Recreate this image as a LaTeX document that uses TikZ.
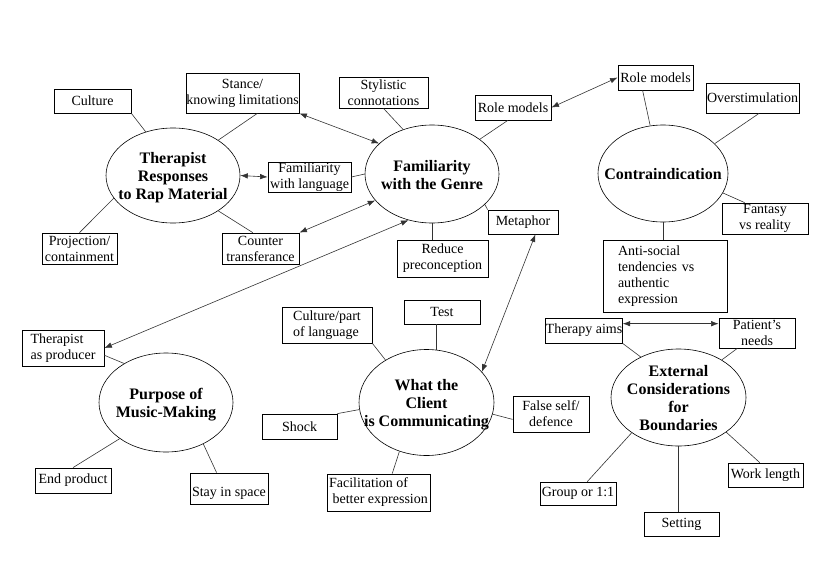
\documentclass[tikz,border=0pt]{standalone}
\usepackage{fontspec}
\setmainfont{Liberation Serif}
\usetikzlibrary{shapes.geometric,arrows.meta}

% texto centrado que no agranda la elipse
\newcommand{\centro}[1]{\smash{\makebox[0pt]{\raisebox{-7pt}{\begin{tabular}{@{}c@{}}#1\end{tabular}}}}}

\begin{document}
\begin{tikzpicture}[x=1pt,y=-1pt,
    caja/.style={draw,line width=0.8pt,inner sep=0pt,align=center,font=\fontsize{14}{16}\selectfont},
    tam/.style 2 args={minimum width=#1pt,minimum height=#2pt},
    elipse/.style={ellipse,draw,line width=0.6pt,inner sep=0pt,font=\fontsize{16}{18}\selectfont\bfseries},
    linea/.style={line width=0.6pt,black!80},
    flecha/.style={linea,<->},
    >={Latex[length=7.5pt,width=5.5pt]}]
    \useasboundingbox (0,0) rectangle (821,575);

    % Elipses
    \node[elipse,tam={134}{95}] (therapist) at (173,175.5) {\centro{Therapist\\Responses\\to Rap Material}};
    \node[elipse,tam={134}{98}] (genre) at (432,174) {\centro{Familiarity\\with the Genre}};
    \node[elipse,tam={130}{97}] (contra) at (663,173.5) {\centro{Contraindication}};
    \node[elipse,tam={134}{99}] (purpose) at (166,402.5) {\centro{Purpose of\\Music-Making}};
    \node[elipse,tam={135}{106}] (client) at (426.5,402.5) {\centro{What the\\Client\\is Communicating}};
    \node[elipse,tam={135}{97}] (external) at (678.5,397.5) {\centro{External\\Considerations\\for\\Boundaries}};

    % Cajas
    \node[caja,tam={77}{24}] (culture) at (92.5,101) {Culture};
    \node[caja,tam={113}{40}] (stance) at (242.5,93) {Stance/\\knowing limitations};
    \node[caja,tam={83}{30}] (famlang) at (309.5,177) {Familiarity\\with language};
    \node[caja,tam={75}{31}] (projection) at (79.5,248.5) {Projection/\\containment};
    \node[caja,tam={77}{31}] (counter) at (260.5,248.5) {Counter\\transferance};
    \node[caja,tam={89}{31}] (stylistic) at (383.5,92.5) {Stylistic\\connotations};
    \node[caja,tam={76}{25}] (rolemodelsa) at (513,107.5) {Role models};
    \node[caja,tam={70}{24}] (metaphor) at (523,222) {Metaphor};
    \node[caja,tam={91}{37}] (reduce) at (442.5,258.5) {Reduce\\preconception};
    \node[caja,tam={75}{25}] (rolemodelsb) at (655.5,77.5) {Role models};
    \node[caja,tam={93}{30}] (overstim) at (752.5,98) {Overstimulation};
    \node[caja,tam={86}{31}] (fantasy) at (765,218.5) {Fantasy\\vs reality};
    \node[caja,tam={124}{72},text width=94pt,align=left] (antisocial) at (665,276) {Anti-social\\tendencies vs\\authentic\\expression};
    \node[caja,tam={82}{36},align=left] (producer) at (63,348) {Therapist\\as producer};
    \node[caja,tam={76}{25}] (endprod) at (73,480.5) {End product};
    \node[caja,tam={78}{31},text height=19pt] (stay) at (229,488.5) {Stay in space};
    \node[caja,tam={90}{36},align=left] (culpart) at (327,325) {Culture/part\\of language};
    \node[caja,tam={76}{24}] (test) at (442,312) {Test};
    \node[caja,tam={75}{25}] (shock) at (299.5,426.5) {Shock};
    \node[caja,tam={76}{36}] (falseself) at (551,414) {False self/\\defence};
    \node[caja,tam={103}{37},align=left] (facil) at (378.5,492.5) {Facilitation of\\\ better expression};
    \node[caja,tam={76}{25}] (aims) at (584,330.5) {Therapy aims};
    \node[caja,tam={76}{30}] (needs) at (757,333) {Patient's\\needs};
    \node[caja,tam={76}{23}] (group) at (578,493.5) {Group or 1:1};
    \node[caja,tam={75}{24}] (setting) at (681.5,524) {Setting};
    \node[caja,tam={75}{24}] (worklength) at (765.5,475) {Work length};

    % Conexiones
    \draw[linea] (culture.south east) -- (therapist.122);
    \draw[linea] (stance.-54) -- (therapist.38);
    \draw[linea] (projection.north) -- (therapist.201);
    \draw[linea] (counter.116) -- (therapist.-38);
    \draw[flecha] (therapist.east) -- (famlang.west);
    \draw[linea] (famlang.east) -- (genre.west);
    \draw[flecha] (stance.south east) -- (genre.150);
    \draw[flecha] (counter.north east) -- (genre.205);
    \draw[flecha] (producer.east) -- (genre.243);
    \draw[linea] (stylistic.south) -- (genre.123);
    \draw[linea] (rolemodelsa.-112) -- (genre.36);
    \draw[linea] (metaphor.north west) -- (genre.-30);
    \draw[linea] (genre.south) -- (genre.south |- reduce.north);
    \draw[flecha] (metaphor.-45) -- (client.29);
    \draw[flecha] (rolemodelsa.east) -- (rolemodelsb.west);
    \draw[linea] (rolemodelsb.-135) -- (contra.105);
    \draw[linea] (overstim.-67) -- (contra.30);
    \draw[linea] (fantasy.142) -- (contra.-18);
    \draw[linea] (contra.south) -- (contra.south |- antisocial.north);
    \draw[linea] (producer.-10) -- (purpose.137);
    \draw[linea] (endprod.north) -- (purpose.218);
    \draw[linea] (stay.128) -- (purpose.-48);
    \draw[linea] (culpart.south east) -- (client.134);
    \draw[linea] (client.80) -- (client.80 |- test.south);
    \draw[linea] (shock.north east) -- (client.186);
    \draw[linea] (falseself.188) -- (client.-10);
    \draw[linea] (facil.54) -- (client.241);
    \draw[flecha] (aims.10) -- (aims.10 -| needs.west);
    \draw[linea] (aims.south east) -- (external.133);
    \draw[linea] (needs.-142) -- (external.41);
    \draw[linea] (group.52) -- (external.217);
    \draw[linea,line width=1.2pt] (external.south) -- (external.south |- setting.north);
    \draw[linea] (worklength.115) -- (external.-36);
\end{tikzpicture}
\end{document}
